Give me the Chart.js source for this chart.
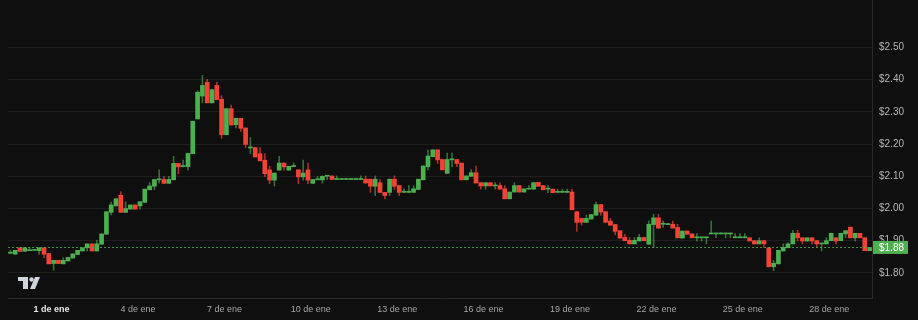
<!DOCTYPE html>
<html>
<head>
<meta charset="utf-8">
<script src="https://cdn.jsdelivr.net/npm/chart.js@4.4.1/dist/chart.umd.min.js"></script>
<style>
  html, body { margin: 0; padding: 0; background: #0f0f0f; }
  canvas { display: block; }
</style>
</head>
<body>
<canvas id="chart" width="918" height="320"></canvas>
<script>
// 4h candles, first one at 30 Dec 12:00
const opens = [
  1.861, 1.858, 1.878, 1.867, 1.869, 1.870, 1.869, 1.878, 1.860, 1.829,
  1.839, 1.828, 1.837, 1.846, 1.857, 1.868, 1.878, 1.890, 1.868, 1.889,
  1.920, 1.988, 2.008, 2.041, 1.988, 1.998, 2.011, 2.008, 2.019, 2.058,
  2.069, 2.089, 2.090, 2.078, 2.089, 2.140, 2.130, 2.130, 2.170, 2.278,
  2.349, 2.392, 2.328, 2.382, 2.339, 2.229, 2.310, 2.260, 2.280, 2.250,
  2.188, 2.189, 2.170, 2.150, 2.120, 2.088, 2.119, 2.141, 2.119, 2.130,
  2.120, 2.098, 2.120, 2.078, 2.089, 2.089, 2.100, 2.101, 2.090, 2.090,
  2.090, 2.090, 2.090, 2.090, 2.091, 2.091, 2.069, 2.080, 2.050, 2.050,
  2.091, 2.071, 2.050, 2.050, 2.050, 2.059, 2.089, 2.130, 2.161, 2.182,
  2.152, 2.109, 2.151, 2.152, 2.141, 2.089, 2.100, 2.111, 2.080, 2.070,
  2.080, 2.070, 2.071, 2.061, 2.030, 2.051, 2.071, 2.051, 2.060, 2.060,
  2.081, 2.071, 2.060, 2.060, 2.050, 2.050, 2.050, 2.051, 1.990, 1.969,
  1.957, 1.967, 1.979, 2.012, 1.990, 1.961, 1.950, 1.931, 1.910, 1.901,
  1.890, 1.899, 1.910, 1.889, 1.950, 1.971, 1.951, 1.950, 1.951, 1.941,
  1.908, 1.930, 1.921, 1.909, 1.909, 1.909, 1.921, 1.921, 1.921, 1.921,
  1.921, 1.909, 1.909, 1.909, 1.909, 1.900, 1.890, 1.900, 1.878, 1.819,
  1.828, 1.868, 1.878, 1.890, 1.923, 1.909, 1.899, 1.909, 1.900, 1.890,
  1.890, 1.900, 1.909, 1.900, 1.921, 1.942, 1.909, 1.923, 1.909, 1.869
];
const highs = [
  1.870, 1.870, 1.878, 1.878, 1.878, 1.871, 1.878, 1.878, 1.860, 1.839,
  1.839, 1.847, 1.848, 1.859, 1.870, 1.878, 1.890, 1.890, 1.901, 1.921,
  1.990, 2.020, 2.030, 2.052, 2.021, 2.011, 2.011, 2.021, 2.060, 2.080,
  2.090, 2.120, 2.100, 2.100, 2.162, 2.140, 2.150, 2.171, 2.271, 2.365,
  2.413, 2.401, 2.369, 2.392, 2.350, 2.310, 2.321, 2.280, 2.280, 2.250,
  2.220, 2.189, 2.189, 2.170, 2.131, 2.110, 2.162, 2.141, 2.131, 2.141,
  2.120, 2.150, 2.141, 2.090, 2.100, 2.101, 2.101, 2.101, 2.101, 2.091,
  2.091, 2.091, 2.091, 2.101, 2.101, 2.091, 2.101, 2.090, 2.050, 2.091,
  2.101, 2.071, 2.061, 2.071, 2.071, 2.091, 2.132, 2.181, 2.182, 2.182,
  2.152, 2.172, 2.172, 2.152, 2.141, 2.101, 2.121, 2.132, 2.080, 2.080,
  2.080, 2.080, 2.080, 2.071, 2.051, 2.080, 2.071, 2.061, 2.071, 2.080,
  2.081, 2.071, 2.071, 2.060, 2.060, 2.060, 2.060, 2.060, 1.990, 1.969,
  1.979, 1.981, 2.020, 2.012, 1.990, 1.969, 1.950, 1.931, 1.920, 1.910,
  1.910, 1.920, 1.910, 1.961, 1.982, 1.982, 1.961, 1.951, 1.961, 1.951,
  1.930, 1.930, 1.921, 1.922, 1.910, 1.910, 1.961, 1.922, 1.922, 1.922,
  1.922, 1.922, 1.922, 1.922, 1.909, 1.900, 1.909, 1.900, 1.878, 1.839,
  1.870, 1.890, 1.893, 1.932, 1.932, 1.909, 1.909, 1.909, 1.900, 1.891,
  1.909, 1.923, 1.909, 1.923, 1.931, 1.942, 1.923, 1.923, 1.909, 1.879
];
const lows = [
  1.860, 1.858, 1.867, 1.867, 1.869, 1.870, 1.858, 1.847, 1.828, 1.808,
  1.829, 1.828, 1.837, 1.846, 1.857, 1.868, 1.868, 1.868, 1.868, 1.889,
  1.920, 1.980, 2.008, 1.988, 1.988, 1.998, 1.998, 1.998, 2.019, 2.058,
  2.058, 2.079, 2.078, 2.078, 2.089, 2.108, 2.129, 2.119, 2.170, 2.278,
  2.328, 2.328, 2.328, 2.338, 2.218, 2.229, 2.259, 2.250, 2.239, 2.189,
  2.170, 2.160, 2.148, 2.099, 2.077, 2.070, 2.119, 2.119, 2.119, 2.130,
  2.077, 2.088, 2.077, 2.078, 2.089, 2.079, 2.090, 2.090, 2.090, 2.090,
  2.090, 2.090, 2.090, 2.090, 2.079, 2.050, 2.040, 2.050, 2.030, 2.040,
  2.059, 2.040, 2.050, 2.050, 2.050, 2.059, 2.089, 2.120, 2.161, 2.140,
  2.120, 2.109, 2.130, 2.130, 2.089, 2.089, 2.100, 2.079, 2.060, 2.060,
  2.070, 2.060, 2.060, 2.030, 2.030, 2.051, 2.051, 2.051, 2.060, 2.060,
  2.069, 2.058, 2.049, 2.049, 2.050, 2.050, 2.050, 1.996, 1.929, 1.948,
  1.957, 1.967, 1.979, 1.979, 1.957, 1.948, 1.918, 1.908, 1.900, 1.890,
  1.890, 1.899, 1.900, 1.889, 1.878, 1.939, 1.941, 1.950, 1.939, 1.909,
  1.908, 1.920, 1.909, 1.899, 1.899, 1.890, 1.921, 1.909, 1.921, 1.909,
  1.909, 1.909, 1.909, 1.909, 1.899, 1.890, 1.890, 1.878, 1.819, 1.807,
  1.828, 1.868, 1.878, 1.890, 1.899, 1.890, 1.899, 1.890, 1.878, 1.868,
  1.890, 1.900, 1.890, 1.900, 1.909, 1.909, 1.899, 1.909, 1.869, 1.869
];
const closes = [
  1.862, 1.870, 1.867, 1.878, 1.870, 1.871, 1.878, 1.858, 1.828, 1.839,
  1.829, 1.839, 1.848, 1.859, 1.870, 1.878, 1.890, 1.868, 1.890, 1.921,
  1.990, 2.011, 2.030, 1.988, 2.000, 2.011, 1.998, 2.021, 2.060, 2.070,
  2.090, 2.091, 2.078, 2.090, 2.140, 2.129, 2.131, 2.171, 2.271, 2.361,
  2.382, 2.328, 2.369, 2.338, 2.229, 2.310, 2.259, 2.280, 2.249, 2.199,
  2.189, 2.160, 2.148, 2.108, 2.088, 2.110, 2.141, 2.129, 2.131, 2.131,
  2.098, 2.110, 2.088, 2.090, 2.090, 2.100, 2.101, 2.090, 2.091, 2.091,
  2.091, 2.091, 2.091, 2.091, 2.079, 2.069, 2.091, 2.050, 2.040, 2.091,
  2.069, 2.050, 2.051, 2.051, 2.061, 2.091, 2.132, 2.163, 2.182, 2.151,
  2.120, 2.152, 2.152, 2.140, 2.089, 2.101, 2.111, 2.079, 2.070, 2.080,
  2.070, 2.071, 2.060, 2.030, 2.051, 2.071, 2.051, 2.061, 2.061, 2.080,
  2.069, 2.058, 2.061, 2.049, 2.051, 2.051, 2.051, 1.996, 1.957, 1.957,
  1.969, 1.981, 2.012, 1.989, 1.957, 1.948, 1.929, 1.908, 1.900, 1.890,
  1.901, 1.910, 1.900, 1.951, 1.971, 1.939, 1.952, 1.951, 1.939, 1.909,
  1.930, 1.920, 1.909, 1.910, 1.910, 1.910, 1.922, 1.922, 1.922, 1.922,
  1.922, 1.910, 1.910, 1.910, 1.899, 1.890, 1.900, 1.890, 1.819, 1.830,
  1.870, 1.879, 1.890, 1.923, 1.909, 1.899, 1.909, 1.899, 1.890, 1.891,
  1.900, 1.923, 1.899, 1.923, 1.931, 1.909, 1.923, 1.909, 1.869, 1.879
];

const yTicks = [1.80, 1.90, 2.00, 2.10, 2.20, 2.30, 2.40, 2.50];
const xTickLabels = ['1 de ene', '4 de ene', '7 de ene', '10 de ene', '13 de ene',
  '16 de ene', '19 de ene', '22 de ene', '25 de ene', '28 de ene'];
const firstTickIndex = 9;      // candle of 1 Jan 00:00
const candlesPerTick = 18;     // 3 days of 4h candles

const GREEN = '#4caf50';
const RED = '#f44336';
const up = opens.map((o, i) => closes[i] >= o);

const categories = closes.map((c, i) => i);
const lastClose = closes[closes.length - 1];

function tickLabel(i) {
  const k = (i - firstTickIndex) / candlesPerTick;
  return Number.isInteger(k) && k >= 0 && k < xTickLabels.length ? xTickLabels[k] : '';
}

const overlay = {
  id: 'overlay',
  afterDatasetsDraw(chart) {
    const { ctx, chartArea, scales } = chart;
    const y = Math.round(scales.y.getPixelForValue(lastClose)) + 0.5;
    ctx.save();
    ctx.strokeStyle = 'rgba(76,175,80,0.8)';
    ctx.lineWidth = 1;
    ctx.setLineDash([2, 2]);
    ctx.beginPath();
    ctx.moveTo(chartArea.left, y);
    ctx.lineTo(chartArea.right, y);
    ctx.stroke();
    ctx.restore();
  },
  afterDraw(chart) {
    const { ctx, chartArea, scales } = chart;
    const y = scales.y.getPixelForValue(lastClose);
    ctx.save();
    // right border up to the top edge
    ctx.strokeStyle = '#2a2a2a';
    ctx.lineWidth = 1;
    ctx.beginPath();
    ctx.moveTo(Math.round(chartArea.right) + 0.5, 0);
    ctx.lineTo(Math.round(chartArea.right) + 0.5, chartArea.top);
    ctx.stroke();
    // last price tag
    ctx.fillStyle = GREEN;
    ctx.fillRect(chartArea.right + 1, y - 6.5, 35, 13);
    ctx.fillStyle = '#ffffff';
    ctx.font = '10px "Liberation Sans", Arial, sans-serif';
    ctx.textBaseline = 'middle';
    ctx.textAlign = 'left';
    ctx.fillText('$' + lastClose.toFixed(2), chartArea.right + 7, y + 0.5);
    // logo
    const lx = chartArea.left + 10, ly = chartArea.bottom - 21;
    ctx.fillStyle = '#d1d4dc';
    ctx.fillRect(lx, ly, 10, 4);
    ctx.fillRect(lx + 5, ly, 5, 12);
    ctx.beginPath();
    ctx.arc(lx + 13.5, ly + 2.5, 2.2, 0, Math.PI * 2);
    ctx.fill();
    ctx.beginPath();
    ctx.moveTo(lx + 17, ly);
    ctx.lineTo(lx + 22, ly);
    ctx.lineTo(lx + 17, ly + 12);
    ctx.lineTo(lx + 12, ly + 12);
    ctx.closePath();
    ctx.fill();
    ctx.restore();
  }
};

Chart.defaults.font.family = '"Liberation Sans", Arial, sans-serif';

new Chart(document.getElementById('chart'), {
  type: 'bar',
  data: {
    labels: categories,
    datasets: [
      {
        label: 'wick',
        data: lows.map((l, i) => [l, highs[i]]),
        backgroundColor: up.map(u => u ? 'rgba(76,175,80,0.6)' : 'rgba(244,67,54,0.65)'),
        barThickness: 1,
        minBarLength: 1,
        grouped: false
      },
      {
        label: 'body',
        data: opens.map((o, i) => [o, closes[i]]),
        backgroundColor: up.map(u => u ? GREEN : RED),
        barThickness: 4,
        minBarLength: 1,
        grouped: false
      }
    ]
  },
  options: {
    responsive: false,
    animation: false,
    layout: { padding: { left: 8, top: 0, right: 0, bottom: 0 } },
    plugins: {
      legend: { display: false },
      tooltip: { enabled: false }
    },
    scales: {
      x: {
        type: 'category',
        offset: true,
        grid: { display: false, drawTicks: false },
        border: { display: true, color: '#2a2a2a' },
        afterFit(scale) { scale.height = 22; },
        ticks: {
          autoSkip: false,
          maxRotation: 0,
          padding: 6,
          labelOffset: -2,
          callback: (v, i) => tickLabel(i),
          color: ctx => ctx.index === firstTickIndex ? '#e6e6e6' : '#a3a3a3',
          font: ctx => ({ size: 9, weight: ctx.index === firstTickIndex ? 'bold' : 'normal' })
        }
      },
      y: {
        position: 'right',
        min: 1.722,
        max: 2.607,
        grid: { color: '#1e1e1e', drawTicks: false },
        border: { display: true, color: '#2a2a2a' },
        afterFit(scale) { scale.width = 46; },
        afterBuildTicks(scale) { scale.ticks = yTicks.map(v => ({ value: v })); },
        ticks: {
          padding: 7,
          color: '#b4b4b4',
          font: { size: 10 },
          callback: v => '$' + Number(v).toFixed(2)
        }
      }
    }
  },
  plugins: [overlay]
});
</script>
</body>
</html>
